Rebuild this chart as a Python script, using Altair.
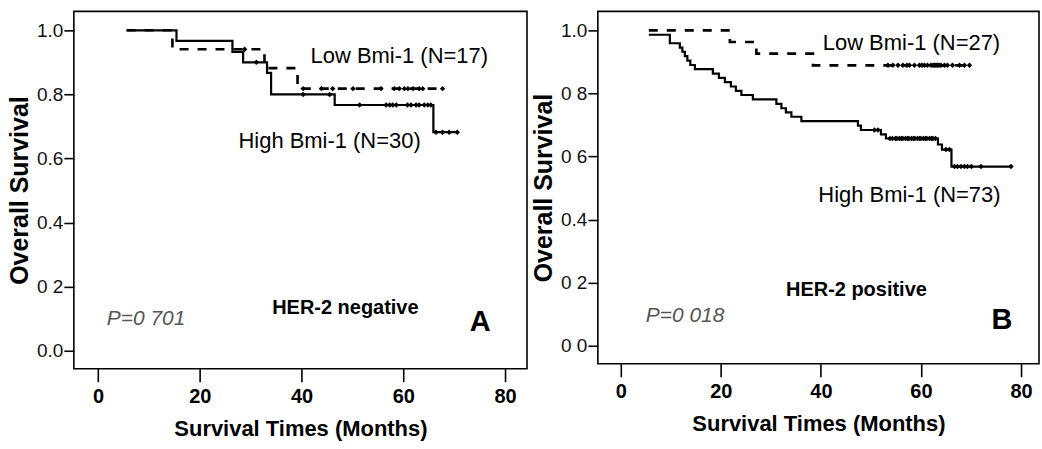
import altair as alt
import pandas as pd

# ---------------- data ----------------
# Panel A : HER-2 negative
a_high_t = [5.6, 15.4, 26.4, 28.5, 33.2, 34.0, 46.5, 65.9, 70.6]
a_high_s = [1.0, 0.967, 0.933, 0.900, 0.867, 0.800, 0.767, 0.682, 0.682]
a_high_cens = [31.1, 40.3, 45.5, 51.4, 56.6, 57.3, 57.9, 58.6, 60.8, 61.5,
               62.5, 63.1, 64.1, 64.8, 65.4, 66.4, 67.7, 69.0, 70.6]
a_low_t = [5.6, 14.6, 32.7, 39.2, 67.7]
a_low_s = [1.0, 0.941, 0.882, 0.818, 0.818]
a_low_cens = [28.8, 40.3, 43.9, 46.1, 50.1, 55.6, 58.2, 59.2, 60.2, 60.9,
              61.9, 63.1, 63.8, 67.7]

# Panel B : HER-2 positive
b_high_t = [5.6, 9.8, 11.8, 12.3, 12.8, 13.3, 13.9, 14.8, 18.4, 19.6, 20.8,
            22.0, 23.0, 24.1, 26.4, 31.1, 32.1, 33.0, 34.1, 36.1, 47.4, 48.0,
            52.0, 53.0, 63.4, 64.2, 66.1, 78.0]
b_high_s = [0.986, 0.959, 0.945, 0.932, 0.918, 0.904, 0.890, 0.877, 0.863,
            0.849, 0.836, 0.822, 0.808, 0.795, 0.781, 0.767, 0.753, 0.740,
            0.726, 0.712, 0.698, 0.684, 0.670, 0.657, 0.638, 0.622, 0.568,
            0.568]
b_high_cens = [50.7, 51.4, 53.8, 54.3, 54.9, 55.2, 55.7, 56.1, 56.4, 56.9,
               57.3, 57.6, 58.1, 58.5, 58.8, 59.3, 59.7, 60.0, 60.5, 60.9,
               61.2, 61.7, 62.1, 62.4, 62.9, 65.0, 65.7, 66.7, 67.3, 68.0,
               68.7, 69.3, 70.1, 72.0, 78.0]
b_low_t = [5.6, 21.8, 27.1, 38.4, 69.7]
b_low_s = [1.0, 0.963, 0.926, 0.889, 0.889]
b_low_cens = [53.4, 54.4, 55.4, 56.4, 57.2, 57.7, 58.7, 59.7, 60.2, 60.7,
              61.3, 62.0, 62.4, 62.7, 63.0, 63.3, 63.6, 64.0, 64.7, 65.3,
              66.3, 67.7, 68.7, 69.7]

x_ticks = [0, 20, 40, 60, 80]
y_ticks = [0.0, 0.2, 0.4, 0.6, 0.8, 1.0]
a_y_labels = ["0.0", "0 2", "0.4", "0.6", "0.8", "1.0"]
b_y_labels = ["0 0", "0 2", "0.4", "0 6", "0 8", "1.0"]

a_texts = {
    "low": ("Low Bmi-1 (N=17)", 59.2, 0.919),
    "high": ("High Bmi-1 (N=30)", 45.5, 0.654),
    "her": ("HER-2 negative", 48.6, 0.134),
    "p": ("P=0 701", 1.7, 0.100),
    "letter": ("A", 75.1, 0.090),
}
b_texts = {
    "low": ("Low Bmi-1 (N=27)", 58.1, 0.959),
    "high": ("High Bmi-1 (N=73)", 57.7, 0.478),
    "her": ("HER-2 positive", 47.1, 0.177),
    "p": ("P=0 018", 5.0, 0.095),
    "letter": ("B", 76.2, 0.082),
}

FONT = "Liberation Sans"


def surv_at(ts, ss, t):
    val = ss[0]
    for ti, si in zip(ts, ss):
        if ti <= t:
            val = si
    return val


def label_expr(values, labels):
    parts = []
    for v, l in zip(values, labels):
        parts.append(f"abs(datum.value - {v}) < 0.001 ? '{l}' : ")
    return "".join(parts) + "''"


def panel(high_t, high_s, high_c, low_t, low_s, low_c, texts, ylabels,
          xdom, ydom, w, h):
    xs = alt.Scale(domain=xdom, nice=False, zero=False)
    ys = alt.Scale(domain=ydom, nice=False, zero=False)
    xax = alt.Axis(values=x_ticks, title="Survival Times (Months)", grid=False,
                   domain=False, tickSize=13, tickWidth=1.6, tickColor="black",
                   labelPadding=5, titlePadding=12, labelFont=FONT,
                   labelFontSize=20, labelFontWeight="bold", labelColor="black",
                   titleFont=FONT, titleFontSize=22, titleFontWeight="bold",
                   titleColor="black", labelFlush=False)
    yax = alt.Axis(values=y_ticks, title="Overall Survival", grid=False,
                   domain=False, tickSize=10, tickWidth=1.6, tickColor="black",
                   labelPadding=1, titlePadding=4, labelFont=FONT,
                   labelFontSize=19, labelColor="#111",
                   labelExpr=label_expr(y_ticks, ylabels), titleFont=FONT,
                   titleFontSize=25, titleFontWeight="bold", titleColor="black",
                   labelFlush=False)

    hi = pd.DataFrame({"t": high_t, "s": high_s})
    lo = pd.DataFrame({"t": low_t, "s": low_s})
    hic = pd.DataFrame({"t": high_c, "s": [surv_at(high_t, high_s, t) for t in high_c]})
    loc = pd.DataFrame({"t": low_c, "s": [surv_at(low_t, low_s, t) for t in low_c]})

    X = alt.X("t:Q", scale=xs, axis=xax)
    Y = alt.Y("s:Q", scale=ys, axis=yax)

    low_line = alt.Chart(lo).mark_line(interpolate="step-after", color="black",
                                       strokeWidth=2.6, strokeDash=[9, 9]).encode(x=X, y=Y)
    high_line = alt.Chart(hi).mark_line(interpolate="step-after", color="black",
                                        strokeWidth=2.2).encode(x=X, y=Y)
    cens = alt.Chart(pd.concat([hic, loc])).mark_point(
        shape="diamond", filled=True, size=30, color="black", opacity=1).encode(x=X, y=Y)

    def txt(key, color="black", **kw):
        lab, tx, ty = texts[key]
        df = pd.DataFrame({"t": [tx], "s": [ty], "label": [lab]})
        return alt.Chart(df).mark_text(font=FONT, color=color, baseline="middle", **kw).encode(
            x=X, y=Y, text="label:N")

    layers = [low_line, high_line, cens,
              txt("low", fontSize=22, align="center"),
              txt("high", fontSize=22, align="center"),
              txt("her", fontSize=20, fontWeight="bold", align="center"),
              txt("p", fontSize=21, fontStyle="italic", align="left", color="#555"),
              txt("letter", fontSize=29, fontWeight="bold", align="center")]
    return alt.layer(*layers).properties(width=w, height=h)


chart_a = panel(a_high_t, a_high_s, a_high_cens, a_low_t, a_low_s, a_low_cens,
                a_texts, a_y_labels, [-4.77, 84.3], [-0.056, 1.059], 454, 358)
chart_b = panel(b_high_t, b_high_s, b_high_cens, b_low_t, b_low_s, b_low_cens,
                b_texts, b_y_labels, [-4.59, 83.6], [-0.057, 1.06], 442, 353)

chart = alt.hconcat(chart_a, chart_b, spacing=2).properties(
    padding={"left": 6, "top": 10, "right": 2, "bottom": 2},
    background="white",
).configure_view(stroke="black", strokeWidth=1.6)

chart.save("out.html", embed_options={"renderer": "svg", "actions": False})
